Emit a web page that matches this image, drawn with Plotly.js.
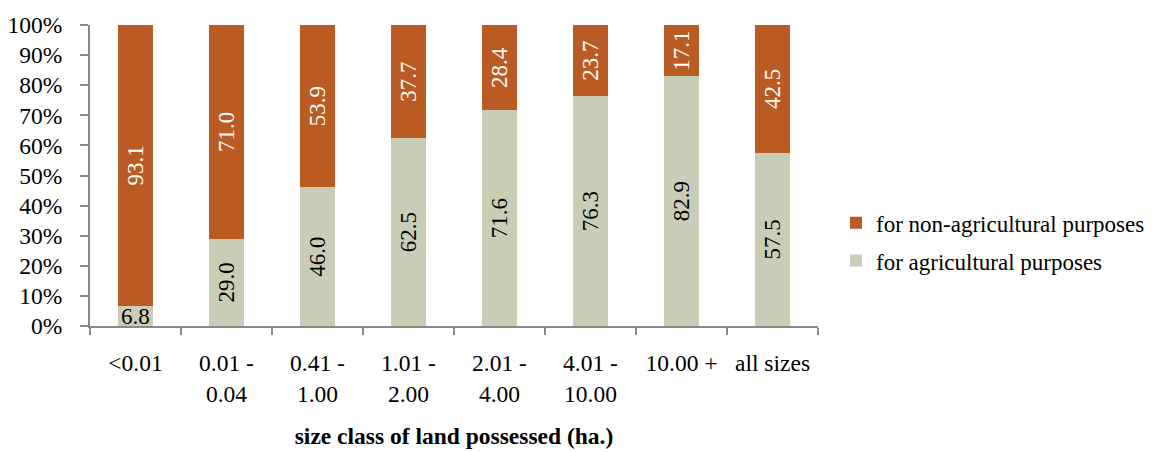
<!DOCTYPE html>
<html>
<head>
<meta charset="utf-8">
<script src="https://cdn.plot.ly/plotly-3.0.1.min.js"></script>
<style>html,body{margin:0;padding:0;background:#fff;}#chart{width:1162px;height:452px;}</style>
</head>
<body>
<div id="chart"></div>
<script>
var categories = ['<0.01', '0.01 -<br>0.04', '0.41 -<br>1.00', '1.01 -<br>2.00', '2.01 -<br>4.00', '4.01 -<br>10.00', '10.00 +', 'all sizes'];
var agricultural = [6.8, 29.0, 46.0, 62.5, 71.6, 76.3, 82.9, 57.5];
var nonAgricultural = [93.1, 71.0, 53.9, 37.7, 28.4, 23.7, 17.1, 42.5];
var yTickValues = [0, 10, 20, 30, 40, 50, 60, 70, 80, 90, 100];
var yTickLabels = ['0%', '10%', '20%', '30%', '40%', '50%', '60%', '70%', '80%', '90%', '100%'];

var FONT = 'Liberation Serif';
var colAgri = '#C9CDB5';
var colNon = '#BA5B24';

// first (tiny) agricultural label is drawn horizontally as an annotation
var agriText = agricultural.map(function(v, i){ return i === 0 ? '' : v.toFixed(1); });
var nonText = nonAgricultural.map(function(v){ return v.toFixed(1); });

var traces = [
  {
    type: 'bar', name: 'for agricultural purposes', x: categories, y: agricultural,
    marker: {color: colAgri}, text: agriText, texttemplate: '%{text}',
    textposition: 'inside', insidetextanchor: 'middle', textangle: -90,
    constraintext: 'none', textfont: {family: FONT, size: 23, color: '#000'},
    hoverinfo: 'skip', legendrank: 2, legendgroup: 'a'
  },
  {
    type: 'bar', name: 'for non-agricultural purposes', x: categories, y: nonAgricultural,
    marker: {color: colNon}, text: nonText, texttemplate: '%{text}',
    textposition: 'inside', insidetextanchor: 'middle', textangle: -90,
    constraintext: 'none', textfont: {family: FONT, size: 23, color: '#fff'},
    hoverinfo: 'skip', legendrank: 1, legendgroup: 'b'
  }
];

var layout = {
  width: 1162, height: 452,
  margin: {l: 90, r: 342, t: 25, b: 126},
  paper_bgcolor: '#fff', plot_bgcolor: '#fff',
  barmode: 'stack', barnorm: 'percent', bargap: 0.605,
  font: {family: FONT, size: 23, color: '#000'},
  showlegend: true,
  legend: {
    x: 1.0247, y: 0.28, xanchor: 'left', yanchor: 'middle',
    traceorder: 'grouped', tracegroupgap: 5,
    font: {family: FONT, size: 23, color: '#000'},
    itemwidth: 30
  },
  xaxis: {
    type: 'category', tickson: 'boundaries', ticks: 'outside', ticklen: 7,
    tickcolor: '#898989', tickwidth: 2,
    showline: true, linecolor: '#898989', linewidth: 2,
    showgrid: false, tickangle: 0, ticklabelstandoff: 15,
    tickfont: {family: FONT, size: 23.5, color: '#000'},
    title: {text: '<b>size class of land possessed (ha.)</b>', font: {family: FONT, size: 23.5, color: '#000'}, standoff: 22}
  },
  yaxis: {
    range: [0, 100], tickmode: 'array', tickvals: yTickValues, ticktext: yTickLabels,
    ticks: 'outside', ticklen: 8, tickcolor: '#898989', tickwidth: 2,
    showline: true, linecolor: '#898989', linewidth: 2,
    showgrid: false, zeroline: false, ticklabelstandoff: 13,
    tickfont: {family: FONT, size: 23.5, color: '#000'}
  },
  annotations: [
    {x: categories[0], y: agricultural[0] / 2, xref: 'x', yref: 'y',
     text: agricultural[0].toFixed(1), showarrow: false,
     font: {family: FONT, size: 23, color: '#000'}, yshift: -1}
  ]
};

Plotly.newPlot('chart', traces, layout, {displayModeBar: false, staticPlot: true});
</script>
</body>
</html>
